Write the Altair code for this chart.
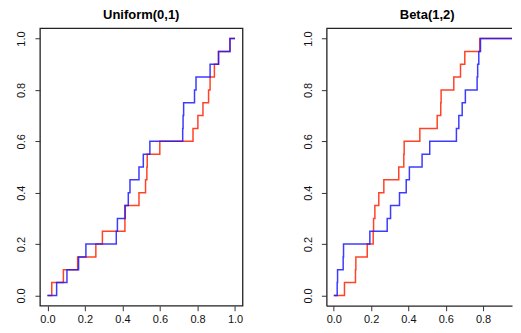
import altair as alt
import pandas as pd

# ECDF sample values (20 points per sample)
unif_red = [0.023, 0.085, 0.161, 0.258, 0.293, 0.413, 0.415, 0.488, 0.523, 0.530,
            0.532, 0.599, 0.776, 0.802, 0.829, 0.859, 0.867, 0.890, 0.912, 0.973]
unif_blue = [0.049, 0.104, 0.166, 0.205, 0.367, 0.373, 0.413, 0.431, 0.440, 0.488,
             0.511, 0.546, 0.721, 0.723, 0.726, 0.784, 0.792, 0.867, 0.912, 0.973]
beta_red = [0.057, 0.116, 0.118, 0.179, 0.211, 0.213, 0.220, 0.241, 0.268, 0.348,
            0.375, 0.377, 0.461, 0.554, 0.573, 0.575, 0.643, 0.679, 0.702, 0.782]
beta_blue = [0.018, 0.020, 0.050, 0.052, 0.193, 0.286, 0.304, 0.352, 0.388, 0.405,
             0.473, 0.514, 0.657, 0.670, 0.688, 0.705, 0.768, 0.771, 0.777, 0.786]

titles = ["Uniform(0,1)", "Beta(1,2)"]
tick_values = [0.0, 0.2, 0.4, 0.6, 0.8, 1.0]
x_start, x_end = 0.0, 1.0

RED = "#ff2200"
BLUE = "#1a1aff"
FONT = "Liberation Sans"
FRAME = "#222222"


def ecdf_df(vals):
    xs = [x_start] + sorted(vals) + [x_end]
    n = len(vals)
    ys = [0.0] + [(i + 1) / n for i in range(n)] + [1.0]
    return pd.DataFrame({"x": xs, "y": ys, "o": list(range(len(xs)))})


def axis(vertical=False, domain=False):
    kw = dict(values=tick_values, format=".1f", title=None, domain=domain, grid=False,
              domainColor=FRAME, domainWidth=1.3,
              tickSize=5, tickColor="#333333", tickWidth=1, labelFontSize=11,
              labelColor="#111111", labelFont=FONT, labelPadding=3)
    if vertical:
        kw.update(labelAngle=270, labelAlign="center", labelBaseline="bottom", labelPadding=8)
    return alt.Axis(**kw)


def panel(title, red, blue, width, xmax, boxed, dx):
    sx = alt.Scale(domain=[-0.04, xmax], nice=False, zero=False)
    sy = alt.Scale(domain=[-0.04, 1.04], nice=False, zero=False)
    layers = []
    for vals, col in [(red, RED), (blue, BLUE)]:
        layers.append(
            alt.Chart(ecdf_df(vals)).mark_line(interpolate="step-after", strokeWidth=1.5,
                                               color=col, opacity=0.85, clip=True).encode(
                x=alt.X("x:Q", scale=sx, axis=axis(domain=not boxed)),
                y=alt.Y("y:Q", scale=sy, axis=axis(True, domain=not boxed)),
                order=alt.Order("o:Q"),
            )
        )
    props = dict(
        width=width, height=278,
        title=alt.TitleParams(title, fontSize=13, fontWeight="bold", font=FONT, offset=6, dx=dx),
    )
    if boxed:
        props["view"] = alt.ViewBackground(stroke=FRAME, strokeWidth=1.3)
    else:
        top = alt.Chart(pd.DataFrame({"k": [0]})).mark_rule(color=FRAME, strokeWidth=1.3).encode(
            x=alt.value(0), x2=alt.value(width), y=alt.value(0))
        layers.append(top)
    return alt.layer(*layers).properties(**props)


chart = alt.hconcat(
    panel(titles[0], unif_red, unif_blue, 203, 1.04, True, 0),
    panel(titles[1], beta_red, beta_blue, 186, 0.955, False, 8),
    spacing=84, bounds="flush",
).configure_view(strokeWidth=0).properties(
    padding={"left": 7, "top": 0, "right": 0, "bottom": 0}
)

chart.save("out.html", embed_options={"renderer": "svg", "actions": False})
